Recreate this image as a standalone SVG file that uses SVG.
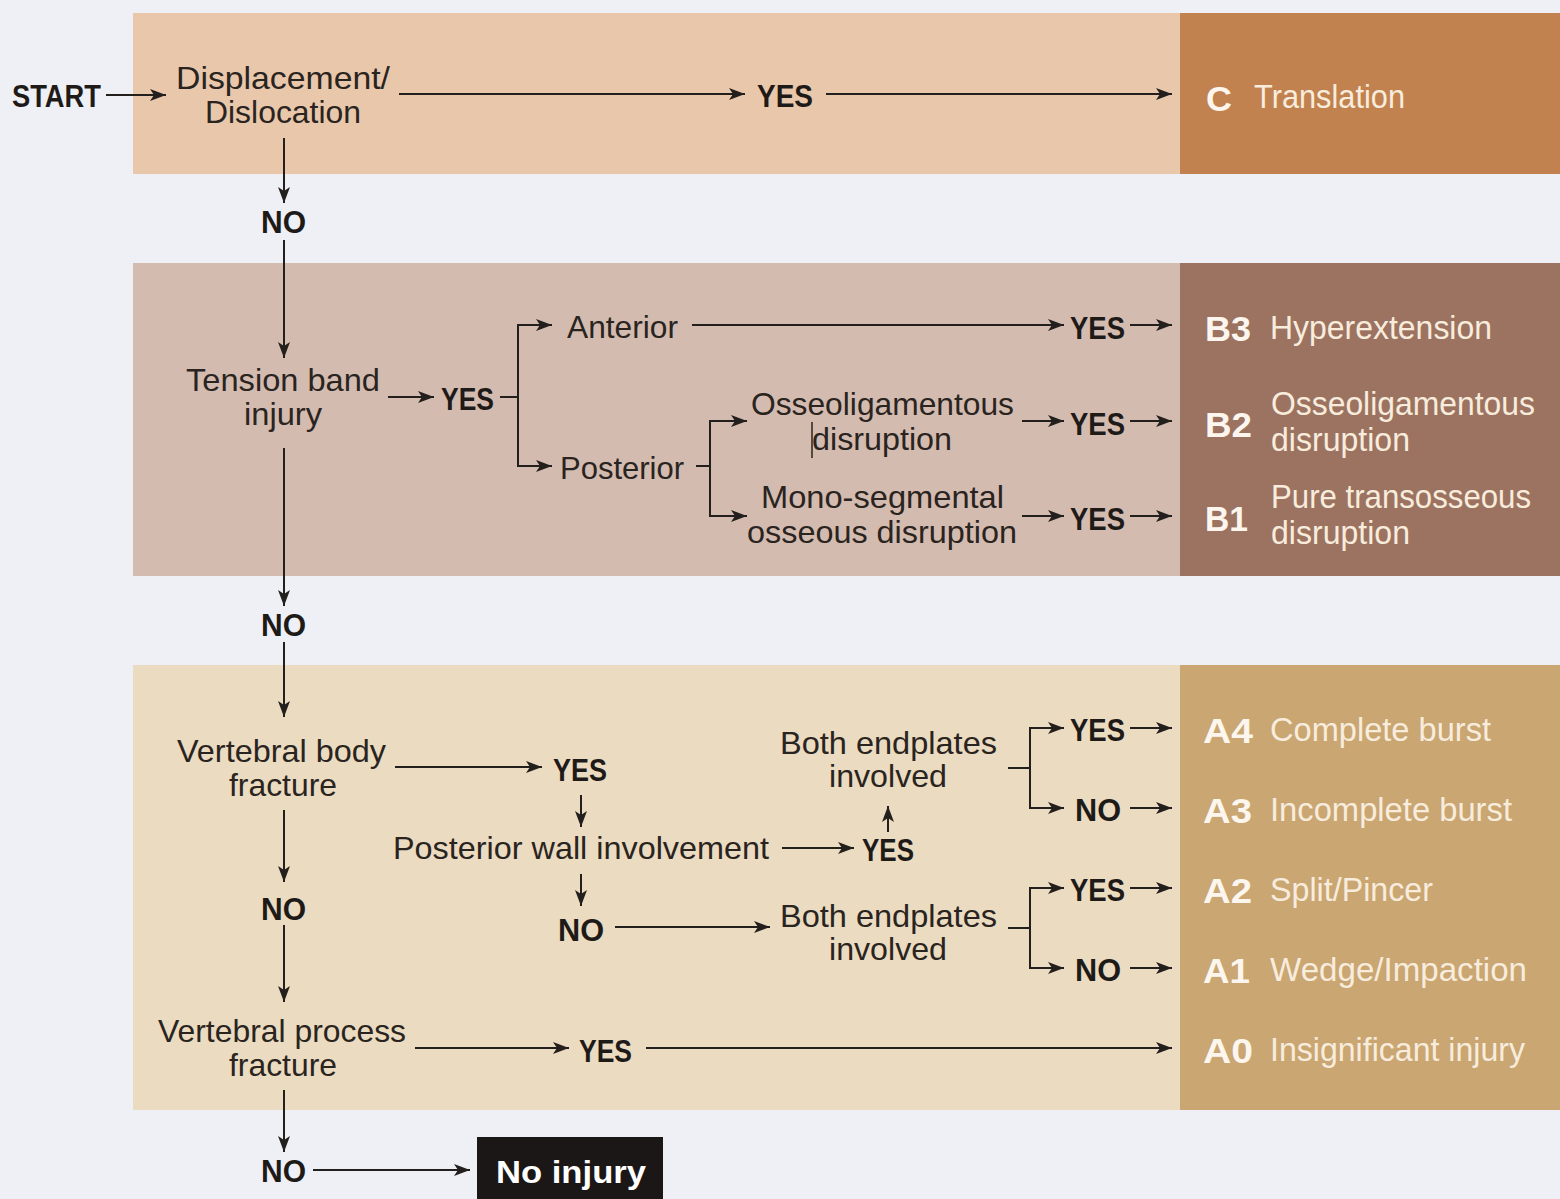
<svg xmlns="http://www.w3.org/2000/svg" width="1560" height="1199" viewBox="0 0 1560 1199">
<defs>
<style>
.t{font-family:"Liberation Sans",Arial,sans-serif;font-size:32px;fill:#2a2420}
.b{font-family:"Liberation Sans",Arial,sans-serif;font-size:31px;font-weight:bold;fill:#1e1a18}
.r{font-family:"Liberation Sans",Arial,sans-serif;font-size:33px;fill:#f8ecdd}
.c{font-family:"Liberation Sans",Arial,sans-serif;font-size:35px;font-weight:bold;fill:#fdf6ee}
.w{font-family:"Liberation Sans",Arial,sans-serif;font-size:32px;font-weight:bold;fill:#ffffff}
.l{fill:none;stroke:#231f1d;stroke-width:2}
</style>
<marker id="ah" markerUnits="userSpaceOnUse" markerWidth="18" markerHeight="14" refX="16" refY="7" orient="auto">
<path d="M0,1 L16,7 L0,13 L4,7 Z" fill="#231f1d"/>
</marker>
</defs>
<rect width="1560" height="1199" fill="#eef0f5"/>
<g id="bands">
<rect x="133" y="13" width="1047" height="161" fill="#e8c7ab"/>
<rect x="1180" y="13" width="380" height="161" fill="#c1824f"/>
<rect x="133" y="263" width="1047" height="313" fill="#d4bbb0"/>
<rect x="1180" y="263" width="380" height="313" fill="#9c7361"/>
<rect x="133" y="665" width="1047" height="445" fill="#ebdbc0"/>
<rect x="1180" y="665" width="380" height="445" fill="#c9a672"/>
</g>
<g id="connectors" class="l" marker-end="url(#ah)">
<line x1="106" y1="95" x2="166" y2="95"/>
<line x1="399" y1="94" x2="745" y2="94"/>
<line x1="826" y1="94" x2="1172" y2="94"/>
<line x1="284" y1="138" x2="284" y2="203"/>
<line x1="284" y1="240" x2="284" y2="358"/>
<line x1="388" y1="397" x2="434" y2="397"/>
<path d="M500,397 H518" marker-end="none"/>
<path d="M518,397 V325 H552"/>
<path d="M518,397 V466 H552"/>
<line x1="692" y1="325" x2="1064" y2="325"/>
<line x1="1130" y1="325" x2="1172" y2="325"/>
<path d="M696,466 H710" marker-end="none"/>
<path d="M710,466 V421 H747"/>
<path d="M710,466 V516 H747"/>
<line x1="1022" y1="421" x2="1064" y2="421"/>
<line x1="1130" y1="421" x2="1172" y2="421"/>
<line x1="1022" y1="516" x2="1064" y2="516"/>
<line x1="1130" y1="516" x2="1172" y2="516"/>
<line x1="284" y1="448" x2="284" y2="606"/>
<line x1="284" y1="642" x2="284" y2="717"/>
<line x1="395" y1="767" x2="542" y2="767"/>
<line x1="581" y1="795" x2="581" y2="827"/>
<line x1="782" y1="848" x2="854" y2="848"/>
<line x1="888" y1="832" x2="888" y2="806"/>
<path d="M1008,768 H1030" marker-end="none"/>
<path d="M1030,768 V728 H1064"/>
<path d="M1030,768 V808 H1064"/>
<line x1="1130" y1="728" x2="1172" y2="728"/>
<line x1="1130" y1="808" x2="1172" y2="808"/>
<line x1="581" y1="874" x2="581" y2="906"/>
<line x1="615" y1="927" x2="770" y2="927"/>
<path d="M1008,928 H1030" marker-end="none"/>
<path d="M1030,928 V888 H1064"/>
<path d="M1030,928 V968 H1064"/>
<line x1="1130" y1="888" x2="1172" y2="888"/>
<line x1="1130" y1="968" x2="1172" y2="968"/>
<line x1="284" y1="810" x2="284" y2="882"/>
<line x1="284" y1="925" x2="284" y2="1002"/>
<line x1="415" y1="1048" x2="569" y2="1048"/>
<line x1="646" y1="1048" x2="1172" y2="1048"/>
<line x1="284" y1="1090" x2="284" y2="1152"/>
<line x1="313" y1="1170" x2="470" y2="1170"/>
</g>
<g id="start"><text class="b" x="12" y="107" textLength="89" lengthAdjust="spacingAndGlyphs">START</text></g>
<g id="displacement">
<text class="t" x="176" y="89" textLength="214" lengthAdjust="spacingAndGlyphs">Displacement/</text>
<text class="t" x="205" y="123" textLength="156" lengthAdjust="spacingAndGlyphs">Dislocation</text>
</g>
<g id="yes-c"><text class="b" x="757" y="107" textLength="56" lengthAdjust="spacingAndGlyphs">YES</text></g>
<g id="result-c">
<text class="c" x="1206" y="111" textLength="26" lengthAdjust="spacingAndGlyphs">C</text>
<text class="r" x="1254" y="108" textLength="151" lengthAdjust="spacingAndGlyphs">Translation</text>
</g>
<g id="no-1"><text class="b" x="261" y="233" textLength="45" lengthAdjust="spacingAndGlyphs">NO</text></g>
<g id="tension">
<text class="t" x="186" y="391" textLength="194" lengthAdjust="spacingAndGlyphs">Tension band</text>
<text class="t" x="244" y="425" textLength="78" lengthAdjust="spacingAndGlyphs">injury</text>
</g>
<g id="yes-tension"><text class="b" x="441" y="410" textLength="53" lengthAdjust="spacingAndGlyphs">YES</text></g>
<g id="anterior"><text class="t" x="567" y="338" textLength="111" lengthAdjust="spacingAndGlyphs">Anterior</text></g>
<g id="posterior"><text class="t" x="560" y="479" textLength="124" lengthAdjust="spacingAndGlyphs">Posterior</text></g>
<g id="yes-b3"><text class="b" x="1070" y="339" textLength="55" lengthAdjust="spacingAndGlyphs">YES</text></g>
<g id="osseolig">
<text class="t" x="751" y="415" textLength="263" lengthAdjust="spacingAndGlyphs">Osseoligamentous</text>
<text class="t" x="812" y="450" textLength="140" lengthAdjust="spacingAndGlyphs">disruption</text>
<line x1="812" y1="422" x2="812" y2="458" stroke="#2a2420" stroke-width="1.5"/>
</g>
<g id="yes-b2"><text class="b" x="1070" y="435" textLength="55" lengthAdjust="spacingAndGlyphs">YES</text></g>
<g id="monoseg">
<text class="t" x="761" y="508" textLength="243" lengthAdjust="spacingAndGlyphs">Mono-segmental</text>
<text class="t" x="747" y="543" textLength="270" lengthAdjust="spacingAndGlyphs">osseous disruption</text>
</g>
<g id="yes-b1"><text class="b" x="1070" y="530" textLength="55" lengthAdjust="spacingAndGlyphs">YES</text></g>
<g id="result-b3">
<text class="c" x="1205" y="341" textLength="46" lengthAdjust="spacingAndGlyphs">B3</text>
<text class="r" x="1270" y="339" textLength="222" lengthAdjust="spacingAndGlyphs">Hyperextension</text>
</g>
<g id="result-b2">
<text class="c" x="1205" y="437" textLength="47" lengthAdjust="spacingAndGlyphs">B2</text>
<text class="r" x="1271" y="415" textLength="264" lengthAdjust="spacingAndGlyphs">Osseoligamentous</text>
<text class="r" x="1271" y="451" textLength="139" lengthAdjust="spacingAndGlyphs">disruption</text>
</g>
<g id="result-b1">
<text class="c" x="1205" y="531" textLength="43" lengthAdjust="spacingAndGlyphs">B1</text>
<text class="r" x="1271" y="508" textLength="260" lengthAdjust="spacingAndGlyphs">Pure transosseous</text>
<text class="r" x="1271" y="544" textLength="139" lengthAdjust="spacingAndGlyphs">disruption</text>
</g>
<g id="no-2"><text class="b" x="261" y="636" textLength="45" lengthAdjust="spacingAndGlyphs">NO</text></g>
<g id="vbody">
<text class="t" x="177" y="762" textLength="209" lengthAdjust="spacingAndGlyphs">Vertebral body</text>
<text class="t" x="229" y="796" textLength="108" lengthAdjust="spacingAndGlyphs">fracture</text>
</g>
<g id="yes-vbody"><text class="b" x="553" y="781" textLength="54" lengthAdjust="spacingAndGlyphs">YES</text></g>
<g id="postwall"><text class="t" x="393" y="859" textLength="376" lengthAdjust="spacingAndGlyphs">Posterior wall involvement</text></g>
<g id="yes-postwall"><text class="b" x="862" y="861" textLength="52" lengthAdjust="spacingAndGlyphs">YES</text></g>
<g id="endplates-1">
<text class="t" x="780" y="754" textLength="217" lengthAdjust="spacingAndGlyphs">Both endplates</text>
<text class="t" x="829" y="787" textLength="118" lengthAdjust="spacingAndGlyphs">involved</text>
</g>
<g id="yes-a4"><text class="b" x="1070" y="741" textLength="55" lengthAdjust="spacingAndGlyphs">YES</text></g>
<g id="no-a3"><text class="b" x="1075" y="821" textLength="46" lengthAdjust="spacingAndGlyphs">NO</text></g>
<g id="no-postwall"><text class="b" x="558" y="941" textLength="46" lengthAdjust="spacingAndGlyphs">NO</text></g>
<g id="endplates-2">
<text class="t" x="780" y="927" textLength="217" lengthAdjust="spacingAndGlyphs">Both endplates</text>
<text class="t" x="829" y="960" textLength="118" lengthAdjust="spacingAndGlyphs">involved</text>
</g>
<g id="yes-a2"><text class="b" x="1070" y="901" textLength="55" lengthAdjust="spacingAndGlyphs">YES</text></g>
<g id="no-a1"><text class="b" x="1075" y="981" textLength="46" lengthAdjust="spacingAndGlyphs">NO</text></g>
<g id="result-a4">
<text class="c" x="1203" y="743" textLength="50" lengthAdjust="spacingAndGlyphs">A4</text>
<text class="r" x="1270" y="741" textLength="221" lengthAdjust="spacingAndGlyphs">Complete burst</text>
</g>
<g id="result-a3">
<text class="c" x="1203" y="823" textLength="49" lengthAdjust="spacingAndGlyphs">A3</text>
<text class="r" x="1270" y="821" textLength="242" lengthAdjust="spacingAndGlyphs">Incomplete burst</text>
</g>
<g id="result-a2">
<text class="c" x="1203" y="903" textLength="49" lengthAdjust="spacingAndGlyphs">A2</text>
<text class="r" x="1270" y="901" textLength="163" lengthAdjust="spacingAndGlyphs">Split/Pincer</text>
</g>
<g id="result-a1">
<text class="c" x="1203" y="983" textLength="47" lengthAdjust="spacingAndGlyphs">A1</text>
<text class="r" x="1270" y="981" textLength="257" lengthAdjust="spacingAndGlyphs">Wedge/Impaction</text>
</g>
<g id="no-3"><text class="b" x="261" y="920" textLength="45" lengthAdjust="spacingAndGlyphs">NO</text></g>
<g id="vprocess">
<text class="t" x="158" y="1042" textLength="248" lengthAdjust="spacingAndGlyphs">Vertebral process</text>
<text class="t" x="229" y="1076" textLength="108" lengthAdjust="spacingAndGlyphs">fracture</text>
</g>
<g id="yes-a0"><text class="b" x="579" y="1062" textLength="53" lengthAdjust="spacingAndGlyphs">YES</text></g>
<g id="result-a0">
<text class="c" x="1203" y="1063" textLength="50" lengthAdjust="spacingAndGlyphs">A0</text>
<text class="r" x="1270" y="1061" textLength="255" lengthAdjust="spacingAndGlyphs">Insignificant injury</text>
</g>
<g id="no-4"><text class="b" x="261" y="1182" textLength="45" lengthAdjust="spacingAndGlyphs">NO</text></g>
<g id="no-injury">
<rect x="477" y="1137" width="186" height="62" fill="#1b1716"/>
<text class="w" x="496" y="1183" textLength="150" lengthAdjust="spacingAndGlyphs">No injury</text>
</g>
</svg>
